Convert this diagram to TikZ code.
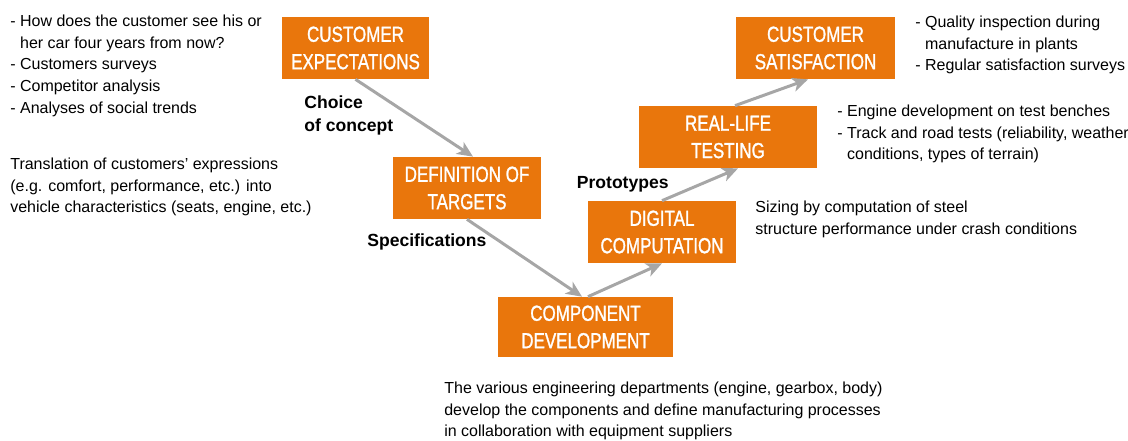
\documentclass[tikz,border=0pt]{standalone}
\usepackage{fontspec}
\setmainfont{Liberation Sans}
\newfontfamily\boxfont[FakeStretch=0.78, FakeBold=1.2]{Liberation Sans}
\usetikzlibrary{arrows.meta}
\definecolor{orng}{RGB}{233,118,12}
\definecolor{arrgray}{RGB}{166,166,166}
\tikzset{
  stage/.style={fill=orng, text=white, font=\boxfont\fontsize{12.4}{15.6}\selectfont,
    align=center, minimum height=1.24cm, inner sep=0pt},
  note/.style={font=\fontsize{9.1}{12.25}\selectfont, align=left, anchor=north west, inner sep=0pt},
  tag/.style={font=\bfseries\fontsize{10}{13}\selectfont, align=left, anchor=base west, inner sep=0pt},
  flow/.style={draw=arrgray, line width=1.7pt, ->}
}
\begin{document}
\begin{tikzpicture}[x=0.02cm, y=-0.02cm, >={Stealth[length=9pt,width=8pt,inset=2.5pt]}]
  \useasboundingbox (0,0) rectangle (1128,440);
  \node[stage, minimum width=2.94cm] (cexp) at (355.5,48) {CUSTOMER\\EXPECTATIONS};
  \node[stage, minimum width=2.96cm] (deft) at (467,188) {DEFINITION OF\\TARGETS};
  \node[stage, minimum width=3.50cm, minimum height=1.20cm] (comp) at (585.5,327) {COMPONENT\\DEVELOPMENT};
  \node[stage, minimum width=2.96cm] (digc) at (662,232) {DIGITAL\\COMPUTATION};
  \node[stage, minimum width=3.56cm] (real) at (728,137) {REAL-LIFE\\TESTING};
  \node[stage, minimum width=3.18cm] (csat) at (815.5,48) {CUSTOMER\\SATISFACTION};

  \draw[flow] (cexp.south) -- ([xshift=0.12cm]deft.north);
  \draw[flow] (deft.south) -- ([xshift=-0.07cm]comp.north);
  \draw[flow] ([xshift=0.05cm]comp.north) -- (digc.south);
  \draw[flow] (digc.north) -- ([xshift=0.2cm]real.south);
  \draw[flow] ([xshift=0.14cm]real.north) -- ([xshift=-0.15cm]csat.south);

  \node[tag] (lchoice) at (304,131) {Choice\\of concept};
  \node[tag] (lspec) at (367,246) {Specifications};
  \node[tag] (lproto) at (576.5,188) {Prototypes};

  \node[note] (nexp) at (10,15) {- How does the customer see his or\\\phantom{- }her car four years from now?\\- Customers surveys\\- Competitor analysis\\- Analyses of social trends};
  \node[note] (ndef) at (10,158) {Translation of customers’ expressions\\(e.g. comfort, performance, etc.) into\\vehicle characteristics (seats, engine, etc.)};
  \node[note] (ncsat) at (915,16) {- Quality inspection during\\\phantom{- }manufacture in plants\\- Regular satisfaction surveys};
  \node[note] (nreal) at (837,105) {- Engine development on test benches\\- Track and road tests (reliability, weather\\\phantom{- }conditions, types of terrain)};
  \node[note] (ndigc) at (755,201) {Sizing by computation of steel\\structure performance under crash conditions};
  \node[note] (ncomp) at (444,382) {The various engineering departments (engine, gearbox, body)\\develop the components and define manufacturing processes\\in collaboration with equipment suppliers};
\end{tikzpicture}
\end{document}
